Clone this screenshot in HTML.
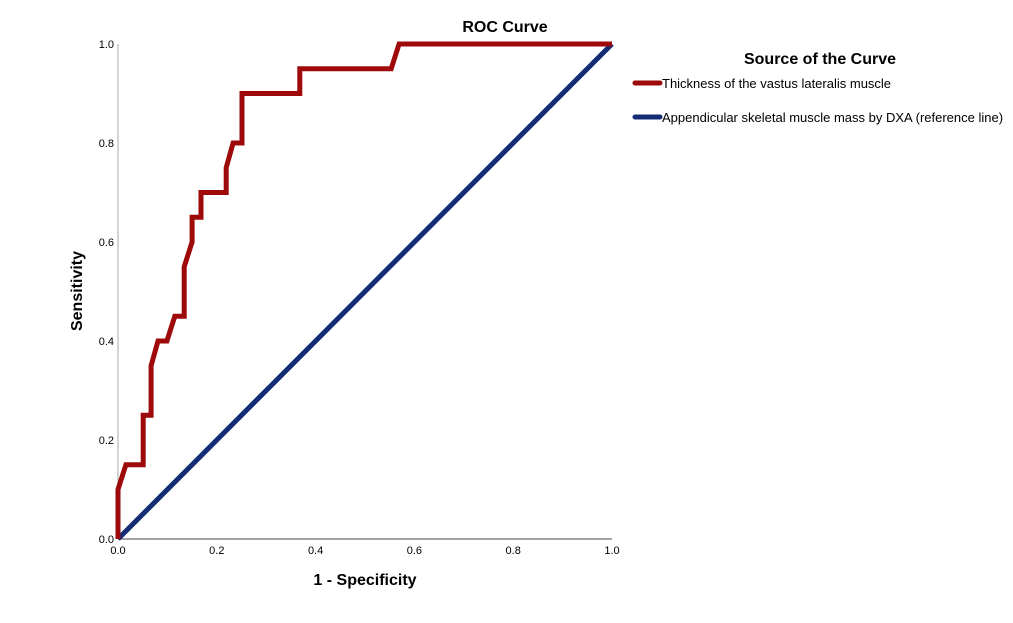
<!DOCTYPE html>
<html><head><meta charset="utf-8"><style>
html,body{margin:0;padding:0;background:#fff;}
svg{display:block;font-family:"Liberation Sans",Arial,sans-serif;}
</style></head><body>
<svg id="chart" width="1013" height="623" viewBox="0 0 1013 623" xmlns="http://www.w3.org/2000/svg">
<text x="505" y="32" font-size="16" font-weight="bold" text-anchor="middle" fill="#000">ROC Curve</text>
<g id="axes"></g>
<g id="series"></g>
<text x="365" y="585" font-size="16" font-weight="bold" text-anchor="middle" fill="#000">1 - Specificity</text>
<text transform="translate(82,291) rotate(-90)" font-size="16" font-weight="bold" text-anchor="middle" fill="#000">Sensitivity</text>
<g>
<text x="820" y="64" font-size="16" font-weight="bold" text-anchor="middle" fill="#000">Source of the Curve</text>
<g>
<line x1="635" y1="83" x2="660" y2="83" stroke="#9e0a0a" stroke-width="5" stroke-linecap="round"/>
<text x="662" y="88" font-size="13" fill="#000">Thickness of the vastus lateralis muscle</text>
</g>
<g>
<line x1="635" y1="117" x2="660" y2="117" stroke="#132c73" stroke-width="5" stroke-linecap="round"/>
<text x="662" y="122" font-size="13" fill="#000">Appendicular skeletal muscle mass by DXA (reference line)</text>
</g>
</g>
</svg>
<script>
const fpr = [0,0,0.016,0.051,0.051,0.067,0.067,0.081,0.099,0.115,0.134,0.134,0.150,0.150,0.168,0.168,0.219,0.219,0.233,0.251,0.251,0.368,0.368,0.553,0.569,1.0];
const tpr = [0,0.10,0.15,0.15,0.25,0.25,0.35,0.40,0.40,0.45,0.45,0.55,0.60,0.65,0.65,0.70,0.70,0.75,0.80,0.80,0.90,0.90,0.95,0.95,1.0,1.0];
const refX = [0,1];
const refY = [0,1];
const ticks = [0,0.2,0.4,0.6,0.8,1.0];
const tickLabels = ["0.0","0.2","0.4","0.6","0.8","1.0"];

const X0=118,X1=612,Y0=539,Y1=44;
const sx=v=>X0+v*(X1-X0);
const sy=v=>Y0-v*(Y0-Y1);
const NS="http://www.w3.org/2000/svg";
const axes=document.getElementById('axes');
const series=document.getElementById('series');
function mk(tag,attrs,parent){const e=document.createElementNS(NS,tag);for(const k in attrs)e.setAttribute(k,attrs[k]);parent.appendChild(e);return e;}

const yl=mk('line',{x1:X0,y1:Y1,x2:X0,y2:Y0,stroke:'#aaaaaa','stroke-width':1},axes);


const xl=mk('line',{x1:X0,y1:Y0,x2:X1,y2:Y0,stroke:'#444','stroke-width':1},axes);


ticks.forEach((t,i)=>{
  const tx=mk('text',{x:sx(t),y:Y0+15,'font-size':11,'text-anchor':'middle',fill:'#000'},axes);
  tx.textContent=tickLabels[i];
  
  
  const ty=mk('text',{x:X0-4,y:sy(t)+4,'font-size':11,'text-anchor':'end',fill:'#000'},axes);
  ty.textContent=tickLabels[i];
  
  
});

const ref=mk('polyline',{points:refX.map((v,i)=>sx(v)+','+sy(refY[i])).join(' '),fill:'none',stroke:'#132c73','stroke-width':5},series);


const roc=mk('polyline',{points:fpr.map((v,i)=>sx(v)+','+sy(tpr[i])).join(' '),fill:'none',stroke:'#9e0a0a','stroke-width':5,'stroke-linejoin':'miter'},series);


</script>
</body></html>
